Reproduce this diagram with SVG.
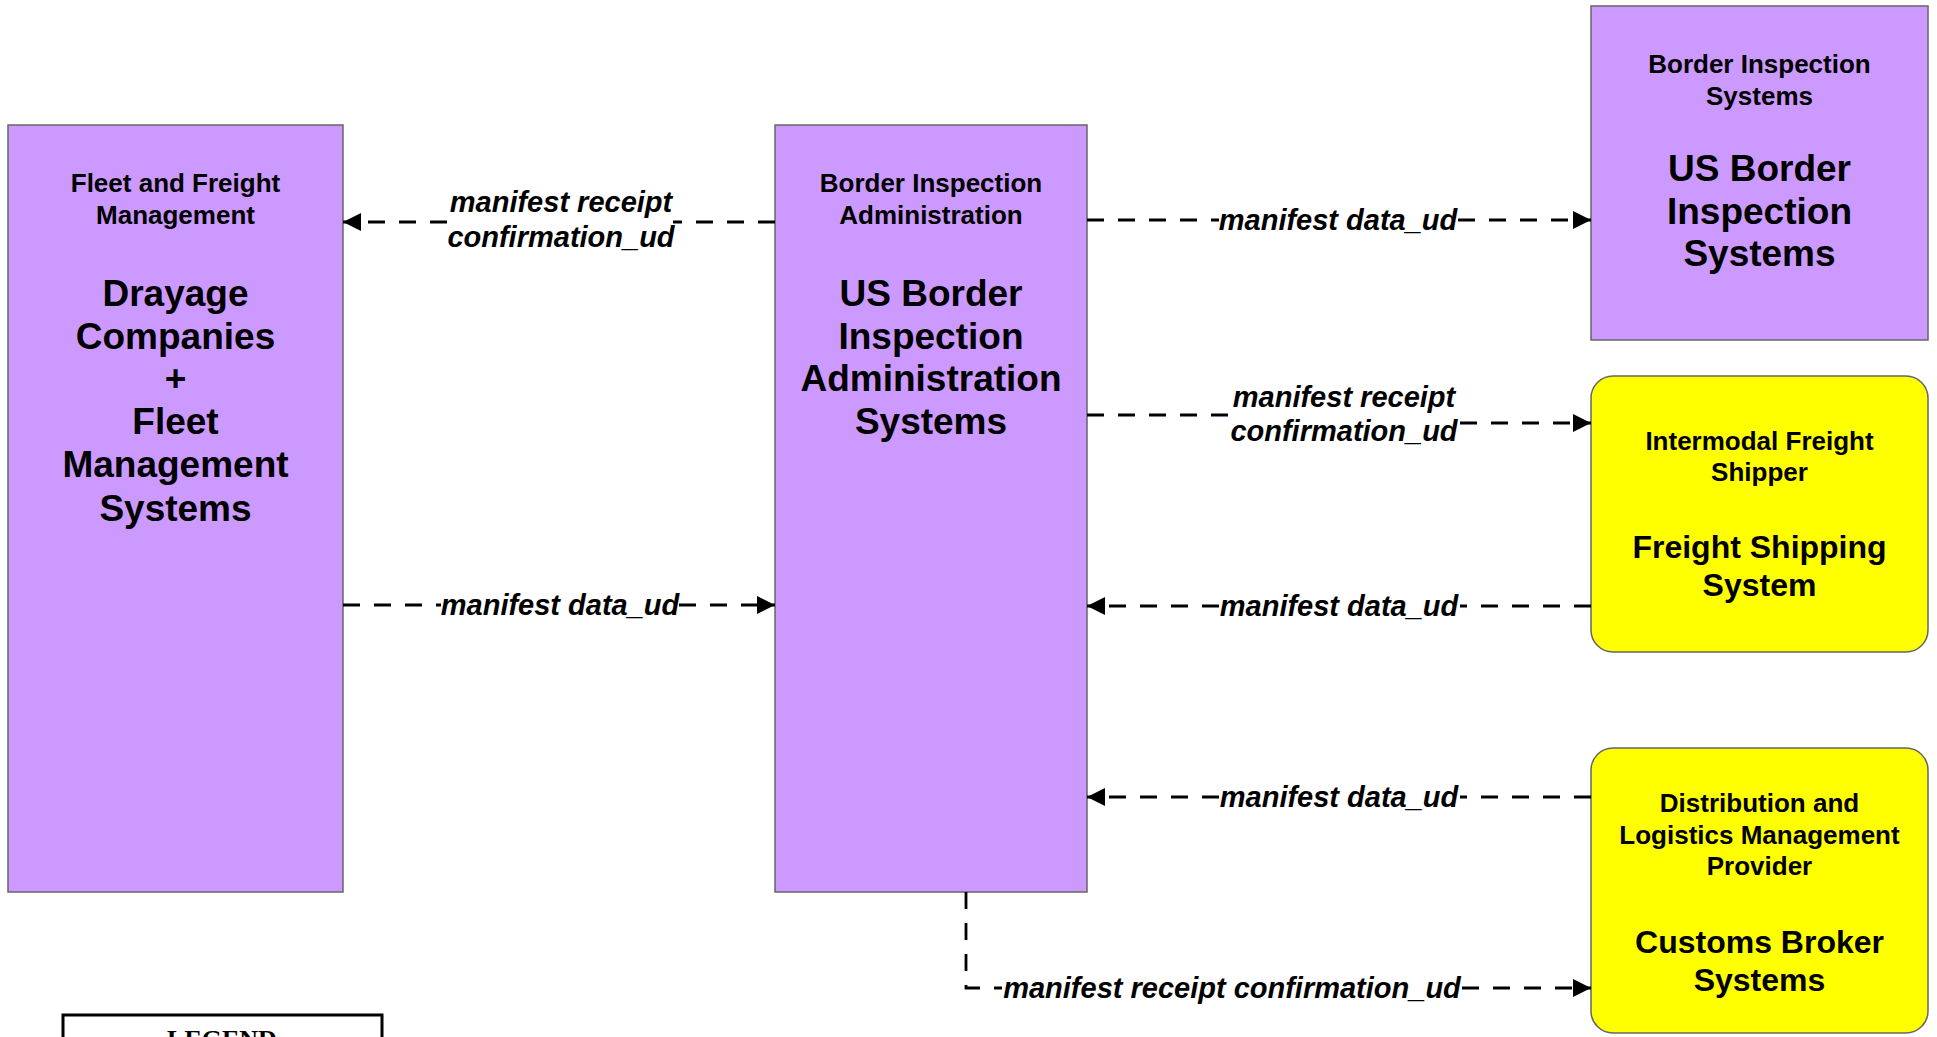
<svg xmlns="http://www.w3.org/2000/svg" width="1937" height="1037" viewBox="0 0 1937 1037">
<defs>
<style>
.box{fill:#CC99FF;stroke:#666666;stroke-width:1.5}
.ybox{fill:#FFFF00;stroke:#666666;stroke-width:1.5}
.sm{font-family:"Liberation Sans",Arial,sans-serif;font-weight:bold;font-size:26px;fill:#000;text-anchor:middle}
.bg{font-family:"Liberation Sans",Arial,sans-serif;font-weight:bold;font-size:37px;fill:#000;text-anchor:middle}
.yb{font-family:"Liberation Sans",Arial,sans-serif;font-weight:bold;font-size:32px;fill:#000;text-anchor:middle}
.lbl{font-family:"Liberation Sans",Arial,sans-serif;font-weight:bold;font-style:italic;font-size:29px;fill:#000;text-anchor:middle}
.cn{fill:none;stroke:#000;stroke-width:2.8;stroke-dasharray:17 14}
.leg{font-family:"Liberation Serif","Times New Roman",serif;font-weight:bold;font-size:26px;fill:#000;text-anchor:middle}
</style>
<marker id="arr" viewBox="0 0 18 18" refX="18" refY="9" markerWidth="18" markerHeight="18" markerUnits="userSpaceOnUse" orient="auto">
<path d="M0,0 L18,9 L0,18 z" fill="#000"/>
</marker>
</defs>
<rect width="1937" height="1037" fill="#FFFFFF"/>

<g id="fleet">
<rect class="box" x="8" y="125" width="335" height="767"/>
<text class="sm" x="175.5" y="192">Fleet and Freight</text>
<text class="sm" x="175.5" y="224">Management</text>
<text class="bg" x="175.5" y="306">Drayage</text>
<text class="bg" x="175.5" y="349">Companies</text>
<text class="bg" x="175.5" y="391">+</text>
<text class="bg" x="175.5" y="434">Fleet</text>
<text class="bg" x="175.5" y="477">Management</text>
<text class="bg" x="175.5" y="521">Systems</text>
</g>

<g id="admin">
<rect class="box" x="775" y="125" width="312" height="767"/>
<text class="sm" x="931" y="192">Border Inspection</text>
<text class="sm" x="931" y="224">Administration</text>
<text class="bg" x="931" y="306">US Border</text>
<text class="bg" x="931" y="349">Inspection</text>
<text class="bg" x="931" y="391">Administration</text>
<text class="bg" x="931" y="434">Systems</text>
</g>

<g id="inspection">
<rect class="box" x="1591" y="6" width="337" height="334"/>
<text class="sm" x="1759.5" y="73">Border Inspection</text>
<text class="sm" x="1759.5" y="105">Systems</text>
<text class="bg" x="1759.5" y="181">US Border</text>
<text class="bg" x="1759.5" y="224">Inspection</text>
<text class="bg" x="1759.5" y="266">Systems</text>
</g>

<g id="shipper">
<rect class="ybox" x="1591" y="376" width="337" height="276" rx="22" ry="22"/>
<text class="sm" x="1759.5" y="450">Intermodal Freight</text>
<text class="sm" x="1759.5" y="481">Shipper</text>
<text class="yb" x="1759.5" y="558">Freight Shipping</text>
<text class="yb" x="1759.5" y="596">System</text>
</g>

<g id="broker">
<rect class="ybox" x="1591" y="748" width="337" height="285" rx="22" ry="22"/>
<text class="sm" x="1759.5" y="812">Distribution and</text>
<text class="sm" x="1759.5" y="844">Logistics Management</text>
<text class="sm" x="1759.5" y="875">Provider</text>
<text class="yb" x="1759.5" y="953">Customs Broker</text>
<text class="yb" x="1759.5" y="991">Systems</text>
</g>

<g id="connectors">
<path class="cn" d="M775,222 L673,222"/>
<path class="cn" d="M447,222 L343,222" marker-end="url(#arr)"/>
<text class="lbl" x="561" y="212">manifest receipt</text>
<text class="lbl" x="561" y="247">confirmation_ud</text>

<path class="cn" d="M343,605 L441,605"/>
<path class="cn" d="M679,605 L775,605" marker-end="url(#arr)"/>
<text class="lbl" x="560" y="615">manifest data_ud</text>

<path class="cn" d="M1087,220 L1219,220"/>
<path class="cn" d="M1458,220 L1591,220" marker-end="url(#arr)"/>
<text class="lbl" x="1338" y="230">manifest data_ud</text>

<path class="cn" d="M1087,415 L1228,415"/>
<path class="cn" d="M1460,423 L1591,423" marker-end="url(#arr)"/>
<text class="lbl" x="1344" y="407">manifest receipt</text>
<text class="lbl" x="1344" y="441">confirmation_ud</text>

<path class="cn" d="M1591,606 L1460,606"/>
<path class="cn" d="M1219,606 L1087,606" marker-end="url(#arr)"/>
<text class="lbl" x="1339" y="616">manifest data_ud</text>

<path class="cn" d="M1591,797 L1460,797"/>
<path class="cn" d="M1219,797 L1087,797" marker-end="url(#arr)"/>
<text class="lbl" x="1339" y="807">manifest data_ud</text>

<path class="cn" d="M966,892 L966,988 L1002,988"/>
<path class="cn" d="M1462,988 L1591,988" marker-end="url(#arr)"/>
<text class="lbl" x="1232" y="998">manifest receipt confirmation_ud</text>
</g>

<g id="legend">
<rect x="63" y="1015" width="319" height="100" fill="#FFFFFF" stroke="#000" stroke-width="3"/>
<text class="leg" x="222" y="1048">LEGEND</text>
</g>
</svg>
